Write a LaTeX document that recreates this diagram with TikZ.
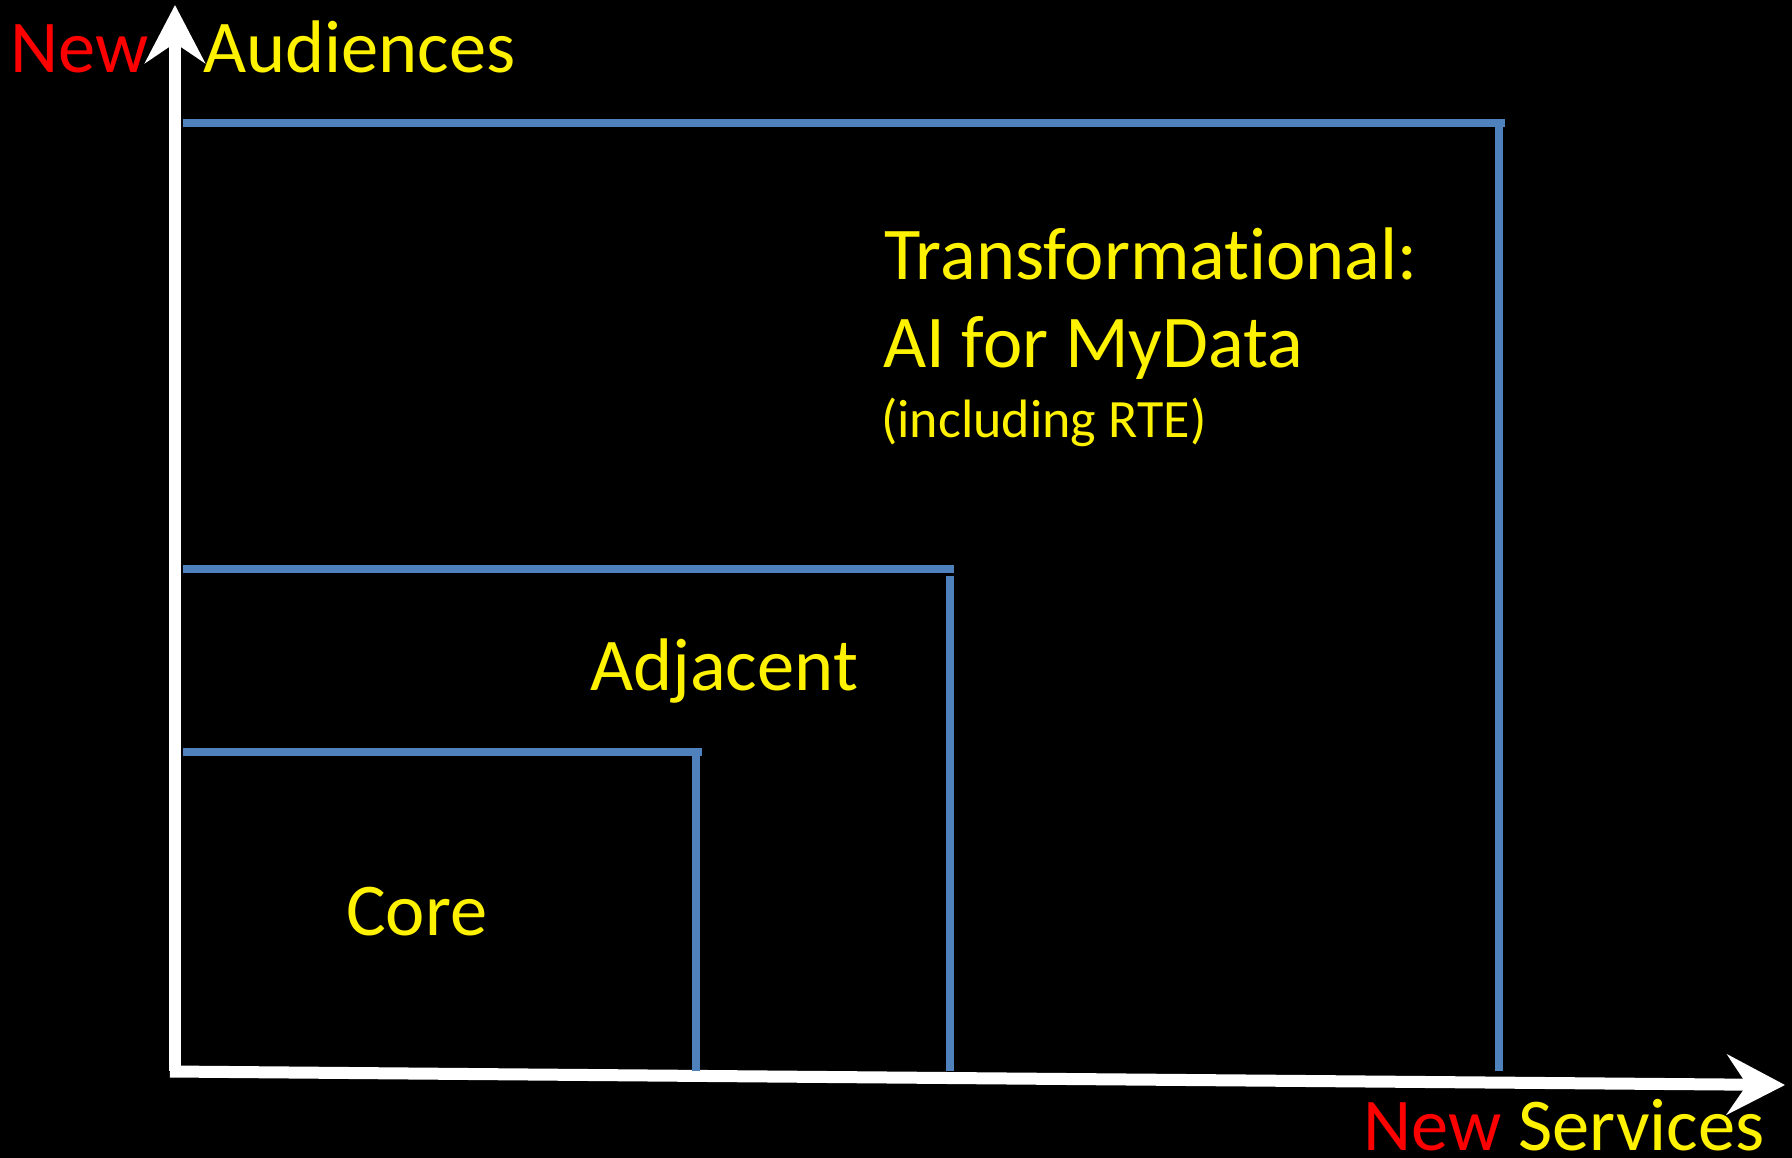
\documentclass[tikz,border=0pt]{standalone}
\usepackage{fontspec}
\setmainfont{Carlito}[Ligatures={NoCommon}]
\usetikzlibrary{arrows.meta}
\definecolor{bndblue}{HTML}{4F81BD}
\begin{document}
\begin{tikzpicture}[x=1pt,y=-1pt,
  axisline/.style={draw=white,line width=12pt,-{Stealth[length=58pt,width=60pt,inset=20pt]}},
  bound/.style={draw=bndblue,line width=8pt},
  lbl/.style={text=yellow,inner sep=0pt,anchor=base west,font=\fontsize{74.5}{88}\selectfont}]
\fill[black] (0,0) rectangle (1792,1158);
\useasboundingbox (0,0) rectangle (1792,1158);
% axes
\coordinate (O) at (175,1071);
\coordinate (ytip) at (175,5);
\coordinate (xstart) at (170,1071.5);
\coordinate (xtip) at (1785,1085);
\draw[axisline] (O) -- (ytip);
\draw[axisline] (xstart) -- (xtip);
% boundaries
\coordinate (tl) at (183,123.3);
\coordinate (tr) at (1505,123.3);
\coordinate (tvt) at (1499,127);
\coordinate (tvb) at (1499,1071);
\coordinate (ml) at (183,569);
\coordinate (mr) at (954,569);
\coordinate (mvt) at (950,576);
\coordinate (mvb) at (950,1071);
\coordinate (sl) at (183,752);
\coordinate (sr) at (701.5,752);
\coordinate (svt) at (696.4,756);
\coordinate (svb) at (696.4,1071);
\draw[bound] (tl) -- (tr);
\draw[bound] (tvt) -- (tvb);
\draw[bound] (ml) -- (mr);
\draw[bound] (mvt) -- (mvb);
\draw[bound] (sl) -- (sr);
\draw[bound] (svt) -- (svb);
% labels
\node[lbl,text=red] (newa) at (10,72.7) {New};
\node[lbl] (aud) at (203,72.7) {Audiences};
\node[lbl] (trans) at (884,280) {Transformational:};
\node[lbl] (ai) at (883,368) {AI for MyData};
\node[lbl,font=\fontsize{54}{64}\selectfont] (incl) at (881,437) {(including RTE)};
\node[lbl] (adj) at (590,690) {Adjacent};
\node[lbl] (core) at (346,935) {Core};
\node[lbl] (newsvc) at (1363,1150) {\textcolor{red}{New} Services};
\end{tikzpicture}
\end{document}
